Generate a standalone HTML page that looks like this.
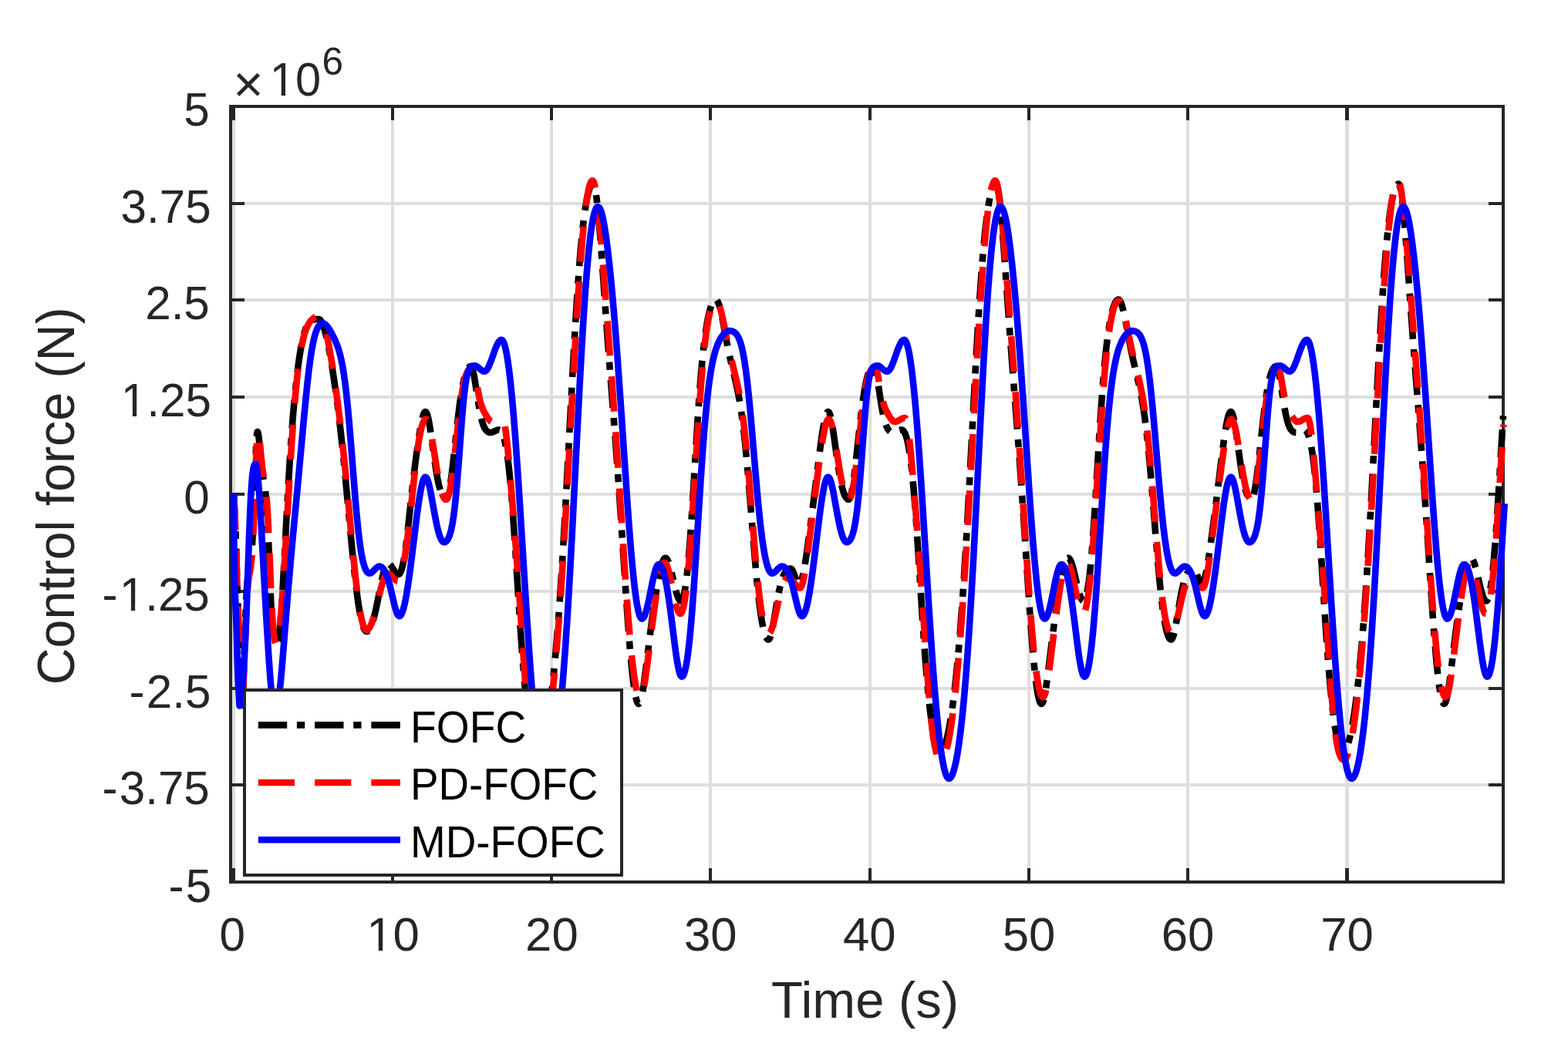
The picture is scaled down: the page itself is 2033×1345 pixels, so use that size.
<!DOCTYPE html>
<html lang="en"><head><meta charset="utf-8"><title>Control force</title>
<style>html,body{margin:0;padding:0;background:#fff;}body{width:2033px;height:1345px;overflow:hidden;}svg{display:block;}text{font-family:"Liberation Sans", Arial, Helvetica, sans-serif;}</style>
</head><body>
<svg width="2033" height="1345" viewBox="0 0 2033 1345">
<rect x="0" y="0" width="2033" height="1345" fill="#fff"/>
<g fill="#dedede" shape-rendering="crispEdges">
<rect x="301" y="140" width="4" height="1002"/>
<rect x="507" y="140" width="4" height="1002"/>
<rect x="713" y="140" width="4" height="1002"/>
<rect x="919" y="140" width="4" height="1002"/>
<rect x="1126" y="140" width="4" height="1002"/>
<rect x="1332" y="140" width="4" height="1002"/>
<rect x="1538" y="140" width="4" height="1002"/>
<rect x="1744" y="140" width="5" height="1002"/>
<rect x="301" y="262" width="1646" height="4"/>
<rect x="301" y="387" width="1646" height="4"/>
<rect x="301" y="513" width="1646" height="4"/>
<rect x="301" y="639" width="1646" height="4"/>
<rect x="301" y="765" width="1646" height="4"/>
<rect x="301" y="891" width="1646" height="4"/>
<rect x="301" y="1016" width="1646" height="4"/>
</g>
<g fill="#262626" shape-rendering="crispEdges">
<rect x="297" y="136" width="1654" height="4"/>
<rect x="297" y="1142" width="1654" height="4"/>
<rect x="297" y="136" width="4" height="1010"/>
<rect x="1947" y="136" width="4" height="1010"/>
<rect x="301" y="1126" width="4" height="16"/>
<rect x="301" y="140" width="4" height="16"/>
<rect x="507" y="1126" width="4" height="16"/>
<rect x="507" y="140" width="4" height="16"/>
<rect x="713" y="1126" width="4" height="16"/>
<rect x="713" y="140" width="4" height="16"/>
<rect x="919" y="1126" width="4" height="16"/>
<rect x="919" y="140" width="4" height="16"/>
<rect x="1126" y="1126" width="4" height="16"/>
<rect x="1126" y="140" width="4" height="16"/>
<rect x="1332" y="1126" width="4" height="16"/>
<rect x="1332" y="140" width="4" height="16"/>
<rect x="1538" y="1126" width="4" height="16"/>
<rect x="1538" y="140" width="4" height="16"/>
<rect x="1744" y="1126" width="5" height="16"/>
<rect x="1744" y="140" width="5" height="16"/>
<rect x="301" y="262" width="16" height="4"/>
<rect x="1930" y="262" width="17" height="4"/>
<rect x="301" y="387" width="16" height="4"/>
<rect x="1930" y="387" width="17" height="4"/>
<rect x="301" y="513" width="16" height="4"/>
<rect x="1930" y="513" width="17" height="4"/>
<rect x="301" y="639" width="16" height="4"/>
<rect x="1930" y="639" width="17" height="4"/>
<rect x="301" y="765" width="16" height="4"/>
<rect x="1930" y="765" width="17" height="4"/>
<rect x="301" y="891" width="16" height="4"/>
<rect x="1930" y="891" width="17" height="4"/>
<rect x="301" y="1016" width="16" height="4"/>
<rect x="1930" y="1016" width="17" height="4"/>
</g>
<clipPath id="axclip"><rect x="297" y="136" width="1665" height="1010"/></clipPath>
<g clip-path="url(#axclip)" fill="none" stroke-linejoin="round">
<path d="M303.00 641.00L304.07 659.37L304.92 676.15M305.47 689.14L305.81 698.93M306.19 711.72L307.14 746.91M307.56 759.90L307.89 769.70M308.35 782.49L309.47 817.67M309.85 830.67L310.13 840.46M310.49 853.26L311.48 888.44M311.97 901.23L312.45 911.22M313.57 919.08L314.00 914.30L314.50 905.92L315.41 883.94M315.85 871.14L316.18 861.15M316.59 848.36L317.76 813.18M318.22 800.38L318.62 790.39M319.20 777.61L319.75 767.22L320.50 756.05L321.24 748.08L321.96 742.53M324.59 730.00L325.25 725.86L325.91 720.09M326.92 707.34L327.75 692.56L328.65 672.18M329.14 659.39L329.50 649.39M329.94 636.60L331.16 601.42M331.66 588.63L332.10 578.64M332.87 565.87L333.25 562.09L333.48 560.71L333.70 560.15L333.81 560.04L334.00 560.10L334.28 560.62L334.72 562.16L334.98 563.54L335.50 567.10L336.24 573.66L338.25 595.36M339.88 610.48L340.74 616.62L341.65 622.14M344.00 637.16L344.75 644.12L345.26 649.89L346.00 660.07L346.59 669.85M347.23 682.03L347.65 691.22M348.17 703.21L349.47 736.19M349.93 748.18L350.29 757.37M350.78 769.36L351.51 785.74L352.40 802.32M353.26 814.29L353.76 819.46L354.26 823.43M360.13 831.36L360.50 830.44L361.00 828.50L361.51 825.75L362.00 822.39L363.00 813.44L364.24 798.89M365.09 786.92L365.70 777.54M366.43 765.57L368.27 732.62M368.91 720.64L369.40 711.45M370.03 699.46L371.94 663.32M372.64 650.53L373.18 640.75M373.91 627.97L376.17 590.84M377.02 578.07L377.70 568.29M378.63 555.53L380.24 535.39L381.74 518.46M382.98 505.72L384.01 495.97M385.48 483.25L386.75 473.34L388.25 462.84L389.75 453.56L391.20 445.70M394.09 433.23L395.74 427.88L397.26 423.96M405.43 414.88L406.97 414.47L408.75 414.20L410.95 414.04L413.35 414.01L413.93 414.13L414.47 414.40L415.10 414.89L415.77 415.62L416.67 416.95L417.52 418.53L418.48 420.73L419.52 423.55L420.49 426.60L421.48 430.06L423.45 438.02M426.12 450.74L427.96 460.57M430.15 473.38L432.75 489.98L435.41 508.59M437.15 521.67L438.43 531.79M440.01 544.90L442.00 562.39L443.98 580.88M445.30 593.81L446.29 603.76M447.55 616.70L450.96 653.14M452.13 665.89L453.05 675.85M454.23 688.59L457.75 725.02M459.11 738.15L460.21 748.29M461.74 761.40L463.23 773.11L464.51 782.22L465.99 791.50L467.28 798.59M470.73 812.35L471.50 814.41L472.25 816.05L473.19 817.58L474.00 818.46L474.50 818.80L474.87 818.94L475.66 818.97L476.24 818.82L476.78 818.56L477.73 817.82M483.66 805.05L485.46 798.49L487.26 790.90L489.24 781.51L491.98 767.57M494.95 752.67L496.25 746.81L497.62 741.38M505.54 732.19L506.50 733.20L507.48 734.47L511.57 740.87L512.50 742.18L513.40 743.25L514.42 744.20L515.46 744.79L516.43 745.00L517.21 744.82L517.70 744.48L518.12 744.06L519.02 742.74L519.94 740.74L520.74 738.48L521.51 735.79L522.49 731.70L524.02 723.65M525.95 710.79L527.21 700.87M528.73 687.76L532.56 651.96M533.95 639.04L535.06 629.10M536.55 616.19L538.76 598.32L541.25 579.89M543.22 566.43L544.95 555.77M547.62 542.44L548.29 539.93L549.03 537.64L549.71 535.98L550.43 534.78L550.99 534.21L551.35 534.04L551.74 534.01L552.27 534.29L552.99 535.24L553.50 536.33L554.23 538.40L554.77 540.33L555.50 543.44L556.98 551.31L558.46 560.79M560.35 574.26L561.77 584.76M563.68 598.43L565.51 610.49L567.26 620.54L569.01 628.96L570.65 635.35M576.84 647.41L577.57 647.72L578.36 647.77L578.73 647.62L579.03 647.35L579.50 646.71L580.04 645.64L580.72 643.76L581.79 639.70M584.19 626.11L586.25 610.45L588.71 588.79M590.18 575.07L591.31 564.53M592.82 550.81L595.25 530.35L596.49 521.04L597.59 513.51M599.91 499.91L601.01 494.63L602.23 489.57M607.39 476.86L608.21 475.98L609.01 475.39L609.75 475.09L610.54 475.02L611.05 475.32L611.53 475.95L611.99 476.84L612.48 478.15L613.50 481.81L614.76 487.88L616.00 495.18L617.87 507.43M619.82 520.29L621.47 530.15M624.09 542.88L625.01 546.36L626.01 549.61L626.98 552.24L627.95 554.43L629.02 556.35L630.06 557.82L631.29 559.13L632.41 559.97L633.48 560.52L634.62 560.87L635.81 561.00L637.01 560.91L637.99 560.70L639.12 560.31L643.10 558.43L644.79 557.81L645.76 557.59L646.76 557.50L647.35 557.55L647.92 557.74M653.67 569.09L654.77 573.56L655.85 578.85M657.91 591.69L658.99 600.02L659.98 608.56L661.90 627.86M663.04 641.01L663.86 651.18M664.88 664.54L667.41 700.86M668.27 714.03L668.92 724.21M669.77 737.58L672.08 773.91M672.92 787.08L673.58 797.26M674.47 810.63L677.03 846.94M678.03 860.10L678.85 870.27M679.98 883.62L681.75 902.54L683.61 919.84M685.24 932.94L686.70 943.03M689.04 956.22L689.99 960.52L690.77 963.62L691.71 966.89L692.57 969.34L693.51 971.55L694.51 973.28L695.42 974.34L696.26 974.88L696.64 974.98L697.24 974.97L698.17 974.62L699.24 973.73L700.21 972.46L701.20 970.73L702.27 968.35L703.25 965.73L704.33 962.30M707.45 949.48L709.36 939.46M711.51 926.23L713.76 909.99L716.15 890.13M717.56 877.00L718.58 866.86M719.84 853.52L721.48 834.79L722.91 817.25M723.93 804.08L724.68 793.91M725.63 780.55L728.05 744.23M728.88 731.05L729.50 720.87M730.31 707.50L732.40 671.16M733.13 657.98L733.69 647.79M734.41 634.41L736.34 598.26M737.04 584.88L737.59 574.50M738.29 561.11L740.15 525.76M740.81 513.18L741.37 502.80M742.11 489.02L744.12 452.67M744.87 439.69L745.44 429.91M746.16 417.93L748.48 381.40M749.40 368.04L750.13 357.86M751.10 345.10L752.75 324.97L754.20 309.23M755.55 296.10L756.71 285.97M758.45 272.88L759.75 264.59L761.22 256.72L762.51 251.07L764.00 245.88L764.75 243.81L765.47 242.16L766.22 240.75L767.04 239.62L767.94 238.83L768.48 238.58L768.88 238.51L769.27 238.57L769.43 238.68L769.92 239.30M772.99 252.91L774.28 263.23M775.63 276.36L777.00 291.90L778.62 312.24M779.60 325.40L780.34 335.58M781.26 348.54L783.78 384.25M784.70 397.22L785.42 407.40M786.37 420.56L789.03 456.46M790.04 469.62L790.82 479.79M791.84 492.95L794.66 528.84M795.68 542.00L796.47 552.17M797.48 565.34L800.17 601.64M801.13 615.00L801.85 625.18M802.76 638.34L805.19 674.26M806.06 687.43L806.73 697.61M807.59 710.78L809.95 746.71M810.82 759.88L811.49 769.86M812.39 783.02L814.97 818.73M815.99 831.69L816.83 841.86M817.99 855.01L820.01 875.10L820.99 883.45L822.00 890.98M824.26 903.98L824.97 906.90L825.54 908.81L826.24 910.68L826.79 911.75L827.41 912.53L827.73 912.77L828.11 912.89L828.50 912.84L828.67 912.74L829.24 912.19M833.27 896.99L834.25 890.87L835.49 882.15L838.22 860.73M839.83 847.42L841.09 837.10M842.74 823.80L845.24 804.76L847.67 787.54M849.70 774.09L851.33 764.02M853.67 750.83L855.49 741.81L857.28 734.42L858.23 731.16L859.01 728.89L859.77 727.04L860.51 725.62L861.34 724.49L862.12 723.88L862.49 723.74L862.89 723.71L863.64 723.95L864.40 724.59L865.23 725.71L866.07 727.30L866.99 729.52M870.66 742.40L873.01 752.53M876.14 765.56L877.04 768.84L877.99 771.89L878.94 774.53L879.75 776.36L880.76 778.08L881.56 778.97L882.05 779.31L882.43 779.45L882.82 779.49L883.21 779.41L883.84 778.93L884.52 777.94L885.27 776.31L886.02 774.03L886.73 771.32L887.49 767.80L888.81 760.11M890.55 746.83L891.65 736.49M892.87 723.34L894.25 706.40L895.68 686.85M896.57 673.68L897.25 663.30M898.09 649.93L900.31 613.40M901.10 600.22L901.73 589.84M902.53 576.67L904.83 540.34M905.72 527.17L906.44 516.99M907.42 503.83L909.00 484.29L910.50 467.76M911.85 454.63L913.02 444.50M914.69 431.81L916.49 420.35L918.24 411.11L920.02 403.52L920.99 400.05L921.98 397.01M929.57 389.46L930.53 390.97L931.50 393.17L932.48 396.00L933.36 399.08M936.34 412.14L943.29 448.68M946.00 461.81L948.28 471.96M951.40 484.99L953.99 495.88L955.77 503.89L957.50 512.51L959.00 520.78M961.06 533.82L962.49 544.12M964.09 557.02L966.00 574.32L967.82 592.83M969.02 605.97L969.91 616.13M971.01 629.09L973.92 664.97M974.95 677.93L975.76 688.10M976.80 701.05L979.84 736.92M981.03 749.87L982.07 760.42M983.57 774.54L985.00 786.45L986.49 797.35L987.75 805.25L989.24 813.11M993.24 826.49L994.05 827.87L994.97 828.93L995.46 829.27L995.83 829.42L996.22 829.50L996.61 829.44L997.26 828.98L997.93 827.99L998.52 826.72L999.20 824.84M1001.93 813.16L1003.52 804.30L1007.42 780.83M1009.59 769.03L1011.55 760.04M1014.95 748.54L1016.02 745.95L1017.28 743.45L1018.45 741.59L1019.71 740.04L1021.04 738.83L1022.40 738.00L1023.15 737.70L1023.92 737.50L1024.71 737.41L1025.31 737.44L1026.01 737.81L1026.57 738.38L1027.26 739.36L1028.00 740.78L1029.23 743.73L1032.36 752.17M1039.11 752.51L1040.27 748.68L1041.47 743.62M1043.68 731.83L1046.02 716.81L1048.93 695.81M1050.68 682.53L1051.99 672.41M1053.68 659.12L1058.22 622.80M1059.86 609.50L1061.15 599.18M1062.83 585.89L1065.77 564.29L1067.02 556.19L1068.34 548.70M1071.96 535.63L1072.49 534.79L1073.23 534.12L1073.81 534.02L1074.18 534.16L1074.49 534.41L1075.07 535.22L1075.74 536.67L1076.49 538.95L1077.05 541.08M1079.62 554.63L1081.49 567.29L1084.85 591.87M1086.80 605.33L1088.50 615.79M1091.15 629.13L1092.25 633.59L1093.26 637.05L1094.22 639.89L1095.29 642.48L1096.29 644.43L1097.42 646.08L1097.96 646.67L1098.58 647.18L1099.09 647.49L1099.65 647.71L1100.44 647.78L1100.80 647.63L1101.11 647.37L1101.78 646.39L1102.49 644.74L1103.04 643.02L1103.75 640.31L1104.50 636.79L1105.19 633.05M1107.22 619.41L1108.54 608.89M1110.09 595.38L1114.12 557.99M1115.64 544.48L1116.90 533.95M1118.70 520.27L1120.53 508.21L1121.49 502.69L1122.48 497.59L1123.28 493.87L1124.27 489.79L1125.25 486.33L1126.18 483.48M1134.07 476.82L1134.70 478.50L1135.26 480.42L1135.99 483.54L1136.70 487.07M1138.96 500.68L1142.49 523.81L1143.74 531.11L1144.99 537.59M1148.56 550.90L1149.78 553.86L1151.00 556.16L1151.78 557.32L1152.53 558.26L1153.22 558.97L1153.99 559.61M1166.29 558.00L1167.64 557.63L1168.83 557.50L1169.62 557.59L1170.34 557.92L1171.26 558.69L1172.01 559.63L1172.74 560.82L1173.53 562.44L1174.27 564.30L1174.98 566.38L1175.77 569.07L1176.50 571.97L1178.01 579.22L1179.46 587.90M1181.21 600.98L1182.36 611.12M1183.67 624.25L1185.24 642.18L1186.64 659.93M1187.59 672.89L1188.29 682.87M1189.17 695.84L1191.53 732.16M1192.38 745.53L1193.02 755.71M1193.87 769.09L1196.19 805.01M1197.08 818.18L1197.78 828.36M1198.71 841.32L1200.24 861.47L1201.51 877.01M1202.65 889.96L1203.59 899.92M1204.92 912.85L1206.01 922.39L1207.25 932.31L1208.52 941.22L1209.87 949.51M1212.61 962.63L1213.45 965.71L1214.25 968.19L1215.18 970.61L1216.06 972.41M1224.51 968.01L1225.53 965.19L1226.48 962.13L1227.48 958.47L1228.52 954.19L1230.52 944.60L1232.71 931.99M1234.69 918.74L1236.06 908.43M1237.65 895.32L1239.51 878.43L1241.38 859.52M1242.58 846.37L1243.46 836.21M1244.55 823.06L1247.27 787.16M1248.19 773.99L1248.88 763.81M1249.74 750.64L1251.98 714.71M1252.76 701.54L1253.35 691.35M1254.09 678.37L1256.09 642.23M1256.79 629.25L1257.34 619.06M1258.04 605.88L1259.93 569.93M1260.62 556.75L1261.15 546.56M1261.84 533.58L1263.76 497.43M1264.46 484.45L1265.02 474.27M1265.76 460.89L1267.86 424.55M1268.66 411.37L1269.29 401.19M1270.13 388.22L1272.63 352.51M1273.63 339.54L1274.47 329.38M1275.63 316.23L1277.51 297.32L1279.53 280.24M1281.42 267.18L1282.26 262.25L1283.27 256.95M1286.91 243.65L1287.73 241.83L1288.52 240.44L1289.26 239.49L1290.02 238.84L1290.56 238.59L1290.95 238.51L1291.51 238.66L1292.01 239.28L1292.44 240.18L1293.01 241.89L1293.51 243.82L1294.52 249.13L1295.75 257.84L1296.88 267.78M1298.15 280.92L1299.03 291.08M1300.10 304.23L1302.77 340.13M1303.69 353.10L1304.39 363.08M1305.32 376.24L1307.85 411.95M1308.81 425.12L1309.55 435.29M1310.52 448.26L1313.27 484.35M1314.30 497.51L1315.08 507.48M1316.11 520.64L1318.92 556.73M1319.92 569.89L1320.70 580.26M1321.67 593.43L1324.27 629.74M1325.18 642.90L1325.87 653.08M1326.74 666.05L1329.13 702.17M1329.99 715.35L1330.64 725.32M1331.51 738.50L1333.90 774.42M1334.81 787.58L1335.51 797.56M1336.46 810.53L1337.99 830.47L1339.32 846.41M1340.51 859.56L1341.53 869.71M1343.01 882.82L1344.50 893.72L1345.75 901.01L1347.01 906.67L1347.69 908.98L1348.25 910.47L1348.77 911.55L1349.48 912.51L1349.80 912.75L1350.18 912.88L1350.75 912.76L1351.44 912.04L1352.01 910.99L1352.71 909.12L1353.32 907.01M1356.13 892.28L1357.59 882.18M1359.31 868.89L1363.75 832.56M1365.42 819.27L1366.77 808.96M1368.59 795.68L1371.49 776.09L1374.23 759.32M1376.68 746.14L1377.76 741.06L1378.96 736.00M1384.19 723.89L1384.76 723.71L1385.54 723.84L1386.20 724.28L1386.75 724.87L1387.32 725.69L1387.99 726.92L1389.28 730.06L1390.51 733.86L1391.98 739.27L1393.49 745.49L1396.18 757.18M1399.53 770.15L1400.74 773.75L1401.93 776.51L1402.96 778.22L1403.49 778.82L1404.13 779.29M1409.51 768.22L1410.72 761.33L1411.77 754.00L1413.00 743.68L1414.19 731.94M1415.38 718.59L1416.20 708.42M1417.20 695.06L1419.64 658.74M1420.47 645.37L1421.11 634.99M1421.91 621.81L1424.10 585.28M1424.91 572.10L1425.55 561.72M1426.39 548.55L1428.89 512.24M1429.89 499.07L1430.71 488.91M1431.83 475.96L1433.76 456.45L1435.66 440.16M1437.46 427.29L1439.11 417.42M1441.81 404.71L1442.75 401.23L1443.75 397.98L1444.77 395.16L1445.82 392.79L1446.81 391.05L1447.91 389.63L1448.50 389.10L1449.01 388.78L1449.97 388.51L1450.36 388.53L1450.74 388.66L1451.52 389.28L1452.33 390.42L1453.22 392.21L1454.01 394.27L1454.74 396.55L1455.71 400.02L1456.57 403.51M1459.36 416.82L1461.30 427.04M1463.80 440.41L1465.74 450.42L1467.51 459.04L1469.48 468.03L1471.47 476.60M1474.57 489.43L1476.93 499.56M1479.63 512.68L1481.02 520.36L1482.50 529.44L1483.75 537.95L1485.17 548.65M1486.71 561.56L1487.82 571.70M1489.15 584.83L1490.75 601.76L1492.40 620.69M1493.49 633.64L1494.32 643.81M1495.36 656.77L1498.22 692.65M1499.27 705.61L1500.11 715.77M1501.22 728.73L1503.00 748.45L1504.68 765.36M1506.24 779.48L1507.61 790.39M1509.71 804.44L1511.25 812.69L1512.21 816.99L1513.02 820.08L1513.97 823.14L1514.75 825.19L1515.52 826.82L1516.49 828.33L1517.20 829.03L1517.71 829.35L1518.09 829.46L1518.49 829.49L1518.86 829.37L1519.47 828.85L1520.20 827.66L1520.97 825.82L1521.75 823.34L1522.40 820.82M1524.79 809.06L1526.34 799.99M1528.29 788.15L1530.24 776.72L1531.73 768.86L1533.23 761.82L1534.68 756.00M1538.71 744.71L1540.08 742.27L1541.52 740.35L1542.96 738.97L1543.78 738.39L1544.66 737.93M1551.88 745.20L1554.23 751.59L1555.01 753.43L1555.74 754.85L1556.52 756.01L1557.24 756.70L1557.97 756.99L1558.56 756.90L1559.20 756.43L1560.01 755.29L1560.70 753.85L1561.27 752.35L1561.99 750.06L1562.75 747.16L1564.40 739.54M1566.52 727.32L1568.05 717.24M1569.93 703.97L1574.67 667.88M1576.36 654.59L1577.66 644.27M1579.31 630.97L1583.81 594.65M1585.54 581.16L1586.96 570.65M1588.96 557.20L1590.51 548.34L1591.24 544.81L1592.03 541.50L1592.73 539.00L1593.46 536.93L1594.24 535.31L1594.84 534.51L1595.49 534.05L1595.88 534.01L1596.26 534.14L1596.94 534.86L1597.52 535.91L1598.23 537.78L1598.74 539.50L1599.51 542.61L1600.17 545.74M1602.45 559.35L1603.94 569.84M1605.78 583.32L1607.50 595.80L1608.99 605.89L1610.26 613.79L1611.45 620.48M1614.40 633.76L1615.29 636.83L1616.24 639.67L1617.05 641.72L1617.99 643.71M1625.60 641.31L1626.24 638.58L1626.97 634.86L1628.23 627.16L1629.73 616.26L1631.20 604.15M1632.71 590.63L1633.84 580.10M1635.31 566.37L1637.74 544.51L1639.60 529.22M1641.48 515.55L1643.16 505.08M1645.88 491.76L1647.00 487.51L1647.95 484.45L1648.99 481.64L1649.98 479.45L1651.08 477.55L1652.22 476.16L1652.83 475.64L1653.34 475.33L1653.89 475.10L1654.48 475.00L1655.05 475.16L1655.70 475.90L1656.24 476.97L1656.97 479.05L1657.50 480.98L1658.25 484.29L1659.64 491.76M1661.77 505.40L1663.34 515.88M1665.52 529.31L1667.21 538.14L1668.72 544.57L1670.25 549.75L1671.01 551.81L1671.95 554.02L1672.78 555.61L1673.74 557.14L1674.74 558.38L1675.75 559.35L1676.73 560.04L1678.00 560.64L1679.16 560.93L1680.36 560.99M1692.75 558.13L1693.34 558.67L1693.97 559.44L1695.01 561.15L1696.22 563.89L1697.31 567.12M1700.22 579.78L1701.28 586.09L1702.50 594.60L1703.75 604.73L1704.93 615.66M1706.19 628.80L1707.06 638.76M1708.11 651.72L1710.70 687.43M1711.59 700.60L1712.26 710.78M1713.11 723.95L1715.41 760.28M1716.26 773.65L1716.90 783.63M1717.75 796.80L1720.21 832.92M1721.15 845.88L1721.90 855.85M1722.93 868.81L1724.51 887.35L1726.15 904.47M1727.53 917.39L1728.76 927.72M1730.61 941.19L1732.00 949.68L1733.27 956.36L1734.75 962.79L1736.02 967.21L1736.74 969.29L1737.51 971.14L1738.25 972.56L1738.91 973.56L1739.58 974.30L1740.22 974.77L1740.98 974.99L1741.77 974.89M1748.17 963.50L1749.48 958.88L1750.79 953.44M1753.41 940.30L1754.75 932.41L1756.02 924.11L1757.49 913.61L1758.73 903.89M1760.27 890.78L1761.38 880.64M1762.69 867.71L1764.25 851.18L1765.95 831.66M1767.02 818.50L1767.81 808.33M1768.79 795.17L1771.28 759.25M1772.13 746.08L1772.78 735.90M1773.58 722.93L1775.71 686.79M1776.45 673.81L1777.02 663.63M1777.74 650.45L1779.68 614.50M1780.38 601.32L1780.92 591.13M1781.60 578.15L1783.49 542.00M1784.18 529.02L1784.71 518.83M1785.42 505.65L1787.38 469.50M1788.12 456.32L1788.70 446.14M1789.46 432.96L1791.68 396.63M1792.53 383.66L1793.21 373.68M1794.12 360.71L1795.51 342.37L1796.96 324.83M1798.16 311.68L1799.17 301.53M1800.62 288.41L1802.00 277.50L1803.49 267.41L1804.98 258.94L1806.41 252.29M1811.34 239.51L1812.26 238.76L1813.02 238.51L1813.22 238.50L1813.58 238.65L1813.99 239.08L1814.53 240.15L1814.99 241.47L1815.51 243.41L1816.09 246.15M1818.06 259.60L1819.75 275.51L1821.51 295.63M1822.55 308.79L1823.32 318.96M1824.28 331.93L1826.81 367.64M1827.72 380.60L1828.44 390.78M1829.36 403.75L1831.99 439.85M1832.97 453.01L1833.73 462.99M1834.74 476.15L1837.55 512.24M1838.57 525.20L1839.37 535.37M1840.39 548.53L1843.14 584.82M1844.12 598.19L1844.86 608.36M1845.79 621.53L1848.28 657.64M1849.16 670.81L1849.82 680.79M1850.69 693.96L1853.05 730.08M1853.91 743.06L1854.58 753.23M1855.46 766.40L1857.94 802.12M1858.90 815.08L1859.68 825.25M1860.72 838.21L1862.50 858.33L1864.12 874.25M1865.72 887.55L1867.23 897.64M1870.42 910.63L1871.07 911.87L1871.71 912.62L1872.25 912.89L1872.82 912.77L1873.28 912.39L1873.92 911.38L1874.47 910.09L1874.98 908.57L1875.52 906.65L1876.24 903.53L1877.50 896.85L1878.77 888.75L1880.32 877.45M1882.00 864.16L1883.23 854.03M1884.84 840.73L1887.26 821.28L1889.48 804.43M1891.34 791.16L1892.86 780.87M1894.93 767.63L1897.02 755.41L1898.98 745.19L1900.72 737.38L1902.29 731.60M1909.70 726.18L1910.49 727.80L1911.44 730.22L1912.26 732.69L1913.21 735.95M1916.40 748.96L1919.01 760.27L1920.74 767.05L1922.23 772.03L1922.97 774.10L1923.75 775.94L1924.49 777.36L1925.30 778.50L1926.03 779.18L1926.77 779.48L1927.35 779.43L1928.00 778.97L1928.69 777.99L1929.30 776.73M1932.43 763.73L1933.94 753.44M1935.48 740.13L1937.00 724.20L1938.65 703.87M1939.62 690.50L1940.33 680.33M1941.21 666.96L1943.49 630.43M1944.29 617.05L1944.90 606.87M1945.71 593.49L1947.93 557.36M1948.78 544.19L1949.09 539.40" stroke="#000" stroke-width="8.6"/>
<path d="M303.00 641.00L304.44 666.36L305.41 687.54M306.24 713.72L307.00 742.31L307.57 760.30M308.48 786.49L309.90 833.07M310.68 859.05L311.58 886.24L312.40 905.62M314.49 911.33L314.95 903.35L315.45 892.56L316.51 864.78M317.44 838.60L318.45 811.62L319.30 792.23M320.85 766.08L321.46 758.91L322.21 752.15L322.95 747.00L324.45 738.53L325.20 733.79L325.95 727.64L326.67 719.87M328.28 693.72L329.20 673.14L330.18 647.16M331.10 621.18L332.20 591.80L333.03 574.62M336.84 574.08L339.71 603.14L340.70 611.08L341.94 618.98M345.47 644.32L346.20 653.29L346.95 664.87L348.27 690.63M349.40 717.41L351.24 763.17M352.42 788.75L353.45 806.52L353.97 813.50L354.70 821.46L355.20 825.63L355.71 828.99L356.44 832.31L357.04 834.01M362.87 811.50L363.71 803.14L364.70 791.78L366.61 766.05M368.28 740.51L370.99 694.99M372.53 668.03L375.15 623.11M376.83 595.76L378.45 571.01L379.87 550.86M382.03 523.35L384.20 499.65L385.44 487.91L386.55 478.38M390.78 450.30L392.67 441.30L394.47 434.33L395.47 431.08L396.44 428.24L397.45 425.63L398.67 422.89L399.68 420.93L400.90 418.87L402.16 417.06L403.43 415.52L404.70 414.24L406.25 412.98L407.76 412.01L409.39 411.24M423.43 433.24L425.21 441.86L427.18 452.48L429.22 464.30L431.45 478.12M435.26 503.64L438.44 527.03L441.27 549.85M444.23 576.08L446.44 597.37L448.82 621.65M451.32 648.34L455.44 693.35M457.97 720.03L460.68 746.49L462.98 766.36M466.89 793.27L467.73 797.79L468.70 802.49L469.69 806.58L470.75 810.23L471.69 812.86L472.72 815.03L473.26 815.87L473.76 816.49L474.21 816.89L474.73 817.19L475.11 817.28L475.71 817.26L476.28 817.09L476.98 816.70L477.59 816.18L478.26 815.44L479.48 813.62L480.66 811.30L481.96 808.16L483.22 804.57L484.68 799.79M491.41 773.03L494.43 761.21L495.72 756.79L496.96 752.99L498.19 749.82L499.21 747.65L500.37 745.78L501.46 744.61L502.32 744.12L503.11 744.00L504.28 744.23L505.35 744.77L506.16 745.36L507.19 746.30L510.92 750.48L512.49 752.02L513.29 752.62L513.97 753.03L514.71 753.33L515.50 753.49M523.83 728.50L525.20 720.01L526.72 709.52L528.44 696.43L530.07 682.93M532.99 656.90L537.95 611.16M541.11 585.16L542.71 574.07L544.42 564.02L545.94 556.78L546.68 553.87L547.47 551.18L548.18 549.10L548.95 547.26L549.70 545.84L550.65 544.56L551.43 543.94L551.99 543.73L552.39 543.71L552.77 543.81L553.11 544.02L553.79 544.75M560.18 569.63L561.93 580.29L565.69 604.19L567.47 614.84M573.11 640.00L573.99 642.45L574.97 644.64L575.89 646.18L576.82 647.22L577.68 647.72L578.27 647.79L578.66 647.70L579.00 647.49L579.43 647.08L580.20 645.91L580.93 644.27L581.71 641.99L582.68 638.32L583.46 634.81L584.21 630.88L585.20 624.96L586.84 613.48M589.87 587.86L594.78 542.32M597.97 516.72L599.70 505.65L601.19 497.80L601.98 494.28L602.93 490.60L603.93 487.35L604.75 485.10L605.70 482.90L606.76 480.97L607.91 479.34L609.03 478.20L610.35 477.29L611.08 476.98L611.86 476.78L612.85 476.73L613.19 476.93L613.56 477.40M618.92 502.57L620.69 512.21L622.20 519.04L623.69 524.44L624.50 526.91L625.43 529.34L626.72 532.27L628.18 535.11L630.18 538.58L632.20 541.79L633.47 543.59L634.74 545.14L635.92 546.21L636.96 546.80M654.78 553.18L655.93 561.10L656.96 569.64L658.20 581.37L659.64 596.50M661.89 622.61L665.66 669.05M667.70 695.17L671.18 741.64M673.04 767.78L676.20 814.27M677.95 840.41L681.21 886.90M683.27 912.82L684.46 926.16L685.71 938.50L686.96 949.23L688.34 959.13M695.55 984.09L696.43 984.90L696.94 985.21L697.50 985.42L698.09 985.50L698.49 985.46L699.40 985.05L700.27 984.24L701.20 982.94L702.14 981.17L702.99 979.14L703.99 976.31L704.95 973.06L706.72 965.87L708.67 956.06L710.55 944.82M714.08 918.86L716.45 897.99L718.99 872.52M721.30 846.42L723.19 823.10L724.94 799.97M726.78 774.03L729.82 727.53M731.43 701.38L734.16 654.86M735.63 628.70L738.20 582.17M739.67 555.41L742.13 510.48M743.64 483.32L746.30 437.00M747.76 412.84L750.85 365.14M752.70 339.61L754.70 314.69L756.63 293.58M759.58 267.34L761.18 256.26L762.70 247.79L763.47 244.28L764.44 240.60L765.20 238.33L765.99 236.49L766.71 235.29L767.10 234.84L767.58 234.48L767.95 234.33L768.34 234.33L768.70 234.49L768.99 234.77L769.70 235.96L770.46 238.03L771.17 240.74L771.76 243.47M775.41 270.02L777.45 290.52L779.76 317.22M781.86 343.33L785.38 389.00M787.46 416.32L790.89 461.39M792.91 488.11L796.28 533.79M798.17 560.32L801.37 606.81M803.15 633.55L806.08 678.45M807.83 705.20L810.94 751.69M812.78 777.63L814.70 802.96L816.38 823.29M818.91 849.97L820.69 865.67L822.23 877.16L823.19 883.29L823.95 887.62L824.91 892.32L825.70 895.63M835.14 889.68L836.45 881.79L837.72 873.08L839.45 860.00L841.53 843.33M844.84 816.53L848.19 790.75L851.00 770.95M855.42 745.13L856.43 740.64L857.40 736.97L858.26 734.30L859.18 732.08L859.99 730.71L860.39 730.26L860.86 729.89L861.22 729.74L861.62 729.71L862.01 729.80L862.52 730.11L862.96 730.52L863.45 731.15L864.24 732.54L865.17 734.75L866.18 737.79L867.20 741.45L868.20 745.53L870.66 757.07M876.03 782.71L876.95 786.19L877.93 789.44L878.91 792.06L879.79 793.86L880.71 795.16L881.16 795.56L881.69 795.84L882.09 795.89L882.48 795.82L882.97 795.49L883.24 795.20L883.70 794.54L884.15 793.65L884.94 791.59L885.72 788.91L886.45 785.79L887.18 782.06L887.95 777.53L888.72 772.38L889.61 765.64M892.34 739.59L894.20 717.67L896.02 693.33M897.80 667.19L900.76 620.89M902.39 594.74L905.40 547.84M907.14 522.50L908.95 498.36L910.82 476.04M913.25 451.36L914.96 436.86L915.95 429.53L916.94 423.00L917.93 417.09L918.94 411.78L919.92 407.29L920.84 403.60M932.96 397.06L933.72 399.54L934.67 403.02L936.45 410.61L938.42 420.00L942.55 440.80M948.48 467.55L953.20 486.36L954.93 493.56L956.96 502.74L958.61 511.18M962.86 538.44L964.19 548.96L965.45 559.89L967.87 583.56M970.29 610.25L974.04 655.90M976.17 682.62L978.21 707.53L979.99 728.26M982.47 754.34L983.95 768.06L985.45 780.37L986.95 791.06L988.32 799.35M998.06 820.62L998.67 819.83L999.17 818.96L1000.17 816.78L1001.19 813.96L1002.44 809.74L1004.70 800.62L1009.54 778.75M1017.43 753.20L1018.25 751.83L1018.96 750.86L1019.63 750.13L1020.42 749.51L1021.13 749.15L1021.91 749.00L1022.71 749.07L1023.65 749.39L1024.35 749.78L1025.15 750.38L1026.70 751.94L1028.20 753.82L1031.63 758.49L1032.65 759.72L1033.62 760.73L1034.70 761.62L1035.75 762.20L1036.71 762.47L1037.50 762.44L1038.15 761.99L1038.94 760.84L1039.66 759.19L1040.24 757.49L1040.94 754.98L1041.72 751.67L1043.26 743.62M1047.19 716.91L1052.95 671.47M1056.27 645.28L1062.27 599.68M1065.83 574.93L1067.93 562.51L1068.73 558.39L1069.68 554.09L1070.47 550.99L1071.42 547.94L1072.18 546.08L1072.97 544.70L1073.35 544.24L1073.82 543.87L1074.19 543.72L1074.59 543.72L1074.97 543.85L1075.44 544.21L1076.17 545.17L1076.97 546.78L1077.74 548.84L1078.70 552.10L1079.55 555.60M1084.48 583.15L1088.98 611.40L1090.70 621.05L1092.25 628.69M1101.84 646.68L1102.44 645.64L1102.92 644.54L1103.95 641.51L1104.94 637.64L1105.93 632.94L1106.94 627.23L1107.94 620.71L1108.96 613.38L1110.24 603.06M1113.16 576.82L1116.20 548.38L1118.17 531.29M1121.99 504.57L1123.19 498.28L1124.20 493.79L1125.45 489.16L1126.67 485.56L1127.94 482.63L1129.24 480.38L1129.95 479.41L1130.76 478.53L1131.52 477.88L1132.36 477.34L1133.66 476.84L1134.85 476.71L1135.22 476.87L1135.49 477.15L1136.15 478.38L1136.95 480.86L1137.70 483.97L1138.70 489.07L1139.76 495.18M1144.72 520.69L1145.70 524.16L1146.98 527.94L1148.19 530.91L1149.67 533.97L1152.02 538.15L1154.70 542.37L1156.51 544.77L1157.19 545.50L1157.94 546.15L1158.97 546.76L1159.74 546.97L1160.94 546.95L1162.30 546.66L1163.43 546.25L1164.52 545.74L1169.40 543.00L1170.69 542.47L1172.05 542.11L1173.24 542.00L1173.62 542.10L1174.16 542.68L1174.54 543.38M1179.07 569.74L1180.95 588.04L1183.45 616.13M1185.66 642.84L1189.29 688.50M1191.33 715.22L1194.66 760.90M1196.50 787.63L1199.56 833.13M1201.39 860.07L1203.20 885.40L1204.76 905.54M1207.12 931.84L1208.95 948.34L1209.70 954.09L1210.70 960.81L1211.70 966.53L1212.68 971.22L1213.66 975.10L1214.61 978.16M1227.50 971.41L1228.45 967.53L1229.47 962.84L1231.45 952.22L1233.44 939.58L1235.41 925.11M1238.50 898.49L1240.70 876.60L1242.81 853.30M1245.02 826.59L1246.70 804.65L1248.40 780.91M1250.21 754.17L1253.09 708.66M1254.74 681.11L1257.31 636.19M1258.81 609.43L1261.35 563.10M1262.81 536.34L1265.29 491.41M1266.80 464.65L1269.44 419.73M1271.22 391.18L1272.70 368.83L1274.31 346.09M1276.40 319.37L1278.70 293.87L1279.70 284.12L1280.90 273.59M1285.02 246.72L1285.93 242.82L1286.69 240.12L1287.48 237.86L1288.23 236.22L1288.64 235.54L1289.13 234.91L1289.43 234.64L1289.95 234.35L1290.35 234.31L1290.72 234.43L1291.27 235.01L1291.92 236.24L1292.70 238.51L1293.43 241.42L1293.96 243.97L1294.69 248.10L1295.44 253.05L1296.88 264.35M1299.58 290.82L1301.44 312.14L1303.51 337.65M1305.52 363.37L1309.11 410.44M1311.07 436.16L1314.58 482.43M1316.52 508.36L1319.87 554.63M1321.71 580.97L1324.88 627.86M1326.55 653.41L1329.55 699.51M1331.28 725.65L1334.48 772.14M1336.40 797.87L1338.46 822.99L1340.43 844.30M1343.38 870.33L1344.95 881.22L1345.71 885.75L1346.69 890.86L1347.49 894.37L1348.43 897.85L1349.20 900.12L1350.00 901.95L1350.72 903.15L1351.11 903.60L1351.58 903.97L1351.94 904.14L1352.34 904.19L1352.72 904.09L1353.18 903.71L1353.93 902.53L1354.68 900.68L1355.42 898.19L1356.17 895.08M1360.34 869.22L1362.21 854.74L1366.21 822.38M1369.54 796.40L1371.45 782.33L1373.20 770.25L1374.94 759.19L1376.42 750.72M1386.11 732.10L1386.94 733.91L1387.96 736.74L1388.97 740.19L1389.96 744.07L1391.94 753.05L1395.44 770.50L1396.89 777.35M1407.13 791.31L1407.94 788.42L1408.73 784.91L1409.68 779.80L1410.46 774.86L1411.45 767.72L1412.20 761.57L1413.91 745.26M1416.18 719.16L1417.71 699.02L1419.54 672.68M1421.23 646.74L1424.13 600.43M1425.79 574.08L1428.87 527.78M1430.78 501.85L1432.70 478.53L1434.79 456.63M1437.96 430.22L1439.70 418.96L1441.43 409.92L1442.42 405.63L1443.23 402.54L1444.22 399.28L1445.17 396.65L1446.23 394.28L1447.22 392.54L1448.20 391.28L1449.27 390.39L1450.20 390.03L1450.80 390.02L1451.18 390.13L1451.69 390.44L1452.12 390.86L1453.03 392.17M1459.74 416.19L1465.68 445.80L1467.43 454.01L1469.20 461.81M1475.37 486.66L1477.94 497.56L1480.21 508.53L1482.20 519.75L1484.16 532.60M1487.38 558.40L1489.70 580.68L1491.90 604.58M1494.09 630.49L1497.82 676.94M1499.92 702.85L1502.19 729.35L1504.02 748.87M1506.79 774.32L1507.93 783.25L1508.94 790.37L1510.19 798.07L1511.22 803.58L1512.42 809.05L1513.46 812.91L1514.67 816.51L1515.21 817.80L1515.94 819.22M1526.37 802.47L1531.22 780.60L1533.19 772.23L1535.20 764.69L1536.20 761.44L1537.24 758.42M1554.16 759.04L1555.50 760.53L1556.72 761.56L1557.94 762.24L1559.11 762.49L1559.70 762.41L1560.19 762.06L1560.45 761.77L1560.99 760.92L1561.65 759.47L1562.43 757.20L1563.21 754.30L1564.71 747.26L1566.45 737.01L1568.50 722.76M1571.87 696.77L1577.65 650.94M1580.98 625.15L1584.46 598.98L1587.13 580.17M1591.62 554.77L1592.49 551.28L1593.42 548.22L1594.24 546.17L1595.01 544.78L1595.39 544.31L1595.84 543.92L1596.20 543.74L1596.59 543.71L1596.98 543.81L1597.47 544.15L1598.22 545.08L1598.95 546.50L1599.93 549.13L1600.72 551.81L1601.68 555.70L1603.47 564.52L1605.62 577.13M1609.73 603.21L1611.23 612.29L1612.71 620.56L1613.95 626.83L1615.22 632.49L1616.43 637.14L1617.69 641.14L1618.90 644.10L1619.45 645.17L1620.09 646.18M1628.96 627.72L1630.20 619.62L1631.45 610.30L1632.94 597.99L1634.66 582.48M1637.41 556.63L1638.95 542.51L1640.45 529.80L1641.95 518.30L1643.15 510.19M1650.08 482.54L1650.96 480.96L1651.99 479.49L1653.08 478.32L1654.20 477.49L1655.48 476.91L1656.86 476.70L1657.23 476.81L1657.39 476.94L1657.96 477.75L1658.43 478.85L1658.97 480.57L1660.18 485.83L1661.20 491.34L1663.96 507.30L1665.50 515.15M1675.11 539.77L1677.20 542.95L1678.94 545.14L1679.66 545.84L1680.45 546.44L1681.17 546.80L1681.94 546.99L1682.74 546.98L1683.73 546.84L1685.44 546.29L1687.06 545.51L1690.88 543.31L1692.89 542.43L1694.05 542.13L1695.04 542.01L1695.44 542.00L1695.96 542.28L1696.42 542.94L1696.97 544.22L1697.50 545.94L1698.18 548.86L1699.20 554.57L1700.51 564.08M1703.25 590.14L1704.96 609.26L1707.30 637.16M1709.37 662.88L1713.00 709.54M1714.94 735.46L1718.22 781.95M1719.96 807.69L1723.09 854.19M1724.91 880.12L1726.95 906.64L1728.66 926.17M1731.57 952.41L1732.45 958.54L1733.21 963.28L1734.17 968.39L1734.99 972.10L1735.96 975.78L1736.95 978.82L1737.95 981.22L1739.02 983.14L1739.62 983.94L1740.17 984.52L1740.80 985.01L1741.32 985.29L1741.90 985.46L1742.50 985.49L1743.07 985.34L1743.60 985.05L1744.21 984.53L1744.73 983.93L1745.71 982.42L1746.90 979.88L1748.00 976.88M1753.73 951.13L1755.44 940.27L1756.95 929.37L1758.45 917.47L1759.98 904.15M1762.62 878.49L1764.70 855.78L1766.67 832.27M1768.66 806.54L1771.94 759.86M1773.61 734.11L1776.49 687.00M1777.99 661.24L1780.59 615.12M1782.03 588.96L1784.60 542.03M1786.00 516.47L1788.57 470.34M1790.04 444.78L1792.93 397.27M1794.64 371.12L1796.45 345.59L1798.04 325.05M1800.29 299.15L1801.71 285.02L1803.20 271.90L1804.68 260.80L1806.01 252.51M1814.83 238.61L1815.46 241.13L1816.22 244.85L1816.96 249.19L1817.72 254.34L1819.44 268.43L1821.14 285.14M1823.50 311.64L1827.19 357.89M1829.17 383.62L1832.77 430.88M1834.68 456.01L1838.21 502.87M1840.09 528.40L1843.42 575.29M1845.21 601.42L1848.29 647.92M1849.95 673.27L1853.01 720.17M1854.77 746.31L1858.08 792.39M1860.14 818.11L1862.44 843.40L1863.69 855.34L1864.79 864.88M1868.73 890.57L1869.66 894.66L1870.44 897.56L1871.19 899.84L1872.14 902.04L1873.01 903.38L1873.44 903.80L1873.95 904.11L1874.34 904.19L1874.73 904.13L1875.21 903.78L1875.47 903.48L1876.24 902.08L1876.93 900.20L1877.70 897.51L1878.42 894.39L1879.96 886.13L1881.67 874.86M1885.07 848.68L1890.92 801.85M1894.41 776.29L1895.95 766.00L1897.22 758.10L1898.46 751.01L1899.70 744.73L1900.92 739.47L1901.95 735.81L1902.97 732.99L1903.47 731.90L1904.08 730.87M1913.77 751.78L1918.71 776.08L1920.18 782.52L1921.42 787.15L1922.74 791.14L1923.44 792.80L1923.99 793.87L1924.66 794.86L1925.21 795.44L1925.90 795.83L1926.49 795.88M1933.11 770.99L1934.21 762.26L1935.45 750.93L1936.69 737.99L1937.84 724.64M1939.83 698.72L1942.98 652.22M1944.62 626.27L1947.53 579.76M1949.21 553.62L1949.40 550.83" stroke="#ff0000" stroke-width="8.6"/>
<path d="M303.00 641.00L303.08 665.83L303.31 692.04L303.90 736.18L304.20 749.97L304.78 767.90L306.52 813.42L307.86 858.94L308.42 875.50L309.23 893.43L310.50 915.50L310.75 915.39L311.00 915.07L311.25 914.54L311.50 913.80L312.00 911.69L312.75 907.04L313.75 898.26L314.50 889.88L315.50 876.46L317.00 851.48L318.25 825.86L319.50 795.64L323.00 696.48L324.00 670.43L325.00 648.38L326.00 631.13L327.00 618.70L327.50 614.12L328.25 608.95L329.00 605.47L329.75 603.30L330.00 602.81L330.50 602.14L331.00 601.83L331.25 601.80L331.50 601.96L331.75 602.33L332.00 602.91L332.50 604.73L333.00 607.38L333.75 612.87L334.25 617.46L335.00 625.65L336.25 642.26L337.25 657.68L338.50 678.81L343.50 769.84L346.25 817.48L348.75 856.78L350.75 884.02L351.75 895.68L352.50 903.37L353.25 910.03L354.00 915.57L354.75 919.89L355.50 922.93L356.00 924.21L356.25 924.63L356.50 924.89L356.75 925.00L357.00 924.96L357.25 924.82L357.75 924.19L358.50 922.43L359.25 919.69L360.25 914.60L361.00 909.76L362.00 902.07L363.75 885.66L366.25 857.47L373.00 772.84L377.00 726.14L379.75 696.20L386.75 622.05L394.50 537.51L397.00 511.83L399.00 492.98L400.75 478.12L402.50 465.01L404.00 455.26L405.75 445.61L407.25 438.79L408.00 435.85L409.00 432.39L409.75 430.11L410.75 427.49L411.75 425.29L412.75 423.48L413.50 422.37L414.25 421.44L415.00 420.69L416.00 419.95L416.75 419.58L417.50 419.37L418.25 419.30L419.25 419.43L420.00 419.68L421.00 420.21L421.75 420.75L422.75 421.64L423.75 422.71L424.75 423.95L427.00 427.23L429.75 431.90L432.75 437.64L435.25 443.06L437.25 448.06L439.00 453.18L440.75 459.26L442.25 465.47L443.75 472.79L444.75 478.38L445.75 484.62L447.50 497.19L449.25 512.01L451.00 529.11L452.50 545.45L454.00 563.11L460.75 647.91L462.50 667.74L464.25 685.40L466.00 700.54L467.75 713.04L468.50 717.61L469.50 722.99L470.50 727.61L471.50 731.52L472.25 734.03L473.00 736.19L473.75 738.03L474.75 740.03L475.50 741.21L476.50 742.40L477.25 743.02L478.25 743.49L479.00 743.60L480.00 743.47L480.75 743.20L481.75 742.63L483.50 741.16L487.00 737.44L488.25 736.26L489.75 735.20L491.00 734.71L491.75 734.60L492.75 734.68L493.75 735.00L494.50 735.40L495.50 736.14L496.25 736.87L497.75 738.78L499.25 741.36L500.75 744.64L502.25 748.66L503.75 753.43L505.00 757.93L506.25 762.85L511.25 784.07L512.50 788.81L513.50 792.12L514.75 795.49L515.75 797.44L516.25 798.15L516.75 798.66L517.25 798.98L517.75 799.10L518.25 799.03L518.75 798.79L519.25 798.37L520.00 797.42L521.00 795.56L522.25 792.29L523.25 788.96L524.50 783.94L525.75 778.02L527.00 771.27L529.25 757.27L531.75 739.42L534.25 719.84L539.75 674.94L541.25 663.36L542.75 652.55L544.50 641.30L546.00 633.15L547.50 626.64L548.75 622.63L549.75 620.43L550.50 619.38L551.25 618.86L551.75 618.81L552.00 618.88L552.75 619.43L553.25 620.10L553.75 620.99L554.50 622.74L555.50 625.80L557.00 631.75L558.50 638.97L563.75 668.07L566.25 680.66L567.50 686.10L568.75 690.85L570.00 694.86L571.00 697.51L572.25 700.14L573.25 701.67L574.25 702.70L574.75 703.02L575.50 703.28L576.25 703.27L577.00 703.08L577.75 702.71L578.25 702.36L579.50 701.11L580.75 699.26L582.00 696.71L583.00 694.10L584.25 689.98L585.25 685.90L586.25 681.02L587.25 675.26L588.25 668.52L589.25 660.74L591.00 644.49L592.75 625.01L594.50 602.86L598.75 545.86L600.00 530.76L601.00 519.88L602.25 508.09L603.50 498.41L604.75 490.83L605.50 487.21L606.25 484.22L607.00 481.80L607.75 479.86L608.50 478.35L609.25 477.18L610.25 476.05L611.25 475.30L612.50 474.72L613.75 474.42L615.00 474.31L616.00 474.34L617.00 474.59L618.00 475.05L619.75 476.27L623.00 479.18L624.25 480.20L625.50 481.00L626.50 481.44L627.50 481.67L628.50 481.65L629.50 481.24L630.50 480.43L631.50 479.24L632.50 477.69L633.50 475.81L634.75 473.06L636.75 467.93L642.25 452.43L643.75 448.74L645.25 445.62L646.25 443.91L647.00 442.86L647.75 442.02L648.50 441.39L649.25 440.98L650.00 440.81L650.75 440.92L651.25 441.25L652.00 442.12L653.00 444.00L653.75 445.94L654.75 449.24L655.50 452.24L656.50 456.95L657.25 461.01L658.25 467.11L660.00 479.69L661.75 494.61L663.50 511.80L665.25 531.14L666.75 549.32L668.25 568.86L671.50 615.23L674.75 665.71L682.25 786.78L686.25 847.01L688.25 874.52L690.25 899.87L692.25 922.82L694.00 940.80L696.00 958.84L698.00 974.15L699.75 985.29L700.75 990.71L701.75 995.45L702.75 999.51L703.75 1002.89L704.75 1005.60L705.75 1007.63L706.75 1009.00L707.25 1009.43L707.75 1009.70L708.25 1009.80L708.75 1009.75L709.25 1009.56L709.75 1009.24L710.50 1008.51L711.00 1007.86L712.25 1005.64L713.50 1002.59L714.50 999.54L715.75 994.98L717.00 989.56L718.25 983.30L719.25 977.67L720.50 969.84L721.50 962.94L723.75 945.31L726.00 924.67L728.25 900.90L730.50 873.92L732.75 843.65L735.00 810.12L737.25 773.47L739.50 733.95L741.75 692.03L749.75 534.41L753.00 473.16L754.75 442.41L756.25 417.66L758.00 390.91L759.50 369.97L761.50 345.07L763.50 323.74L765.50 305.99L766.50 298.44L767.50 291.76L768.50 285.94L769.50 280.97L770.50 276.82L771.50 273.49L772.50 270.96L773.50 269.23L774.00 268.66L774.50 268.29L775.00 268.12L775.75 268.21L776.50 268.72L777.00 269.29L777.50 270.03L778.50 272.07L779.50 274.82L780.50 278.26L781.50 282.38L782.50 287.16L783.50 292.57L785.50 305.22L787.75 322.15L790.00 341.71L792.25 363.70L794.25 385.15L796.25 408.29L798.25 433.04L800.50 462.65L804.50 519.21L813.00 645.52L815.25 676.88L817.25 702.84L819.50 729.25L821.75 752.14L823.00 763.17L824.00 771.07L825.00 778.12L826.00 784.30L827.25 790.78L828.25 794.95L829.25 798.21L830.25 800.56L830.75 801.39L831.25 801.99L831.75 802.36L832.25 802.50L832.75 802.43L833.50 802.01L834.00 801.52L834.75 800.47L835.75 798.51L836.75 795.94L837.75 792.79L839.00 788.15L841.25 778.21L845.50 757.04L847.00 749.99L848.75 742.78L850.25 737.82L851.25 735.29L852.00 733.85L852.75 732.81L853.50 732.19L854.25 732.00L854.75 732.08L855.25 732.29L855.75 732.64L856.25 733.12L857.25 734.49L858.25 736.40L859.00 738.19L860.00 741.05L860.75 743.55L862.50 750.60L864.25 759.29L866.00 769.56L868.00 783.02L870.00 797.94L875.25 839.26L876.75 850.00L878.00 858.01L879.50 866.13L880.25 869.47L881.00 872.28L881.75 874.52L882.50 876.16L883.25 877.19L883.75 877.53L884.00 877.59L884.50 877.52L885.25 876.98L886.00 875.90L886.75 874.28L887.50 872.13L888.25 869.43L889.50 863.72L891.00 854.85L892.25 845.74L893.75 832.76L895.25 817.58L897.50 790.91L900.00 756.46L902.25 722.23L908.25 626.63L911.25 582.85L913.00 560.02L914.75 539.52L916.25 523.89L918.00 507.90L919.75 494.20L921.50 482.59L923.50 471.57L925.50 462.58L926.50 458.73L927.75 454.44L928.75 451.37L930.00 447.93L931.25 444.89L932.75 441.70L934.00 439.36L935.50 436.91L937.50 434.20L939.50 432.07L940.50 431.22L941.50 430.51L942.50 429.94L943.50 429.52L944.50 429.24L945.50 429.11L946.75 429.13L948.00 429.29L949.25 429.59L950.25 429.95L951.50 430.57L952.50 431.23L953.50 432.07L954.25 432.83L955.75 434.74L957.25 437.31L958.50 440.04L959.75 443.42L961.00 447.53L962.25 452.46L963.50 458.31L965.25 468.16L967.00 480.08L968.75 494.10L970.75 512.59L972.25 528.01L974.00 547.36L979.75 615.44L981.75 638.29L984.00 662.06L986.00 680.89L988.25 699.11L990.25 712.53L991.25 718.26L992.25 723.35L993.25 727.83L994.50 732.58L996.00 737.10L996.75 738.89L997.50 740.39L998.25 741.59L999.00 742.51L999.75 743.15L1000.50 743.51L1001.25 743.60L1002.25 743.42L1003.00 743.13L1004.00 742.52L1005.75 741.01L1009.00 737.54L1010.25 736.35L1011.75 735.26L1013.00 734.73L1013.75 734.61L1014.75 734.67L1015.75 734.96L1016.50 735.34L1017.50 736.06L1018.25 736.76L1019.75 738.64L1021.25 741.17L1022.75 744.40L1024.25 748.37L1025.75 753.09L1027.00 757.55L1028.25 762.44L1033.50 784.67L1034.75 789.34L1035.75 792.57L1036.75 795.25L1037.75 797.28L1038.25 798.02L1038.75 798.57L1039.25 798.93L1039.75 799.09L1040.25 799.06L1040.75 798.85L1041.25 798.47L1042.00 797.57L1043.00 795.77L1044.25 792.59L1045.25 789.32L1046.50 784.37L1047.75 778.52L1049.00 771.84L1051.25 757.93L1053.75 740.17L1056.25 720.65L1062.00 673.75L1063.50 662.23L1065.00 651.52L1066.50 641.90L1068.00 633.65L1069.50 627.02L1070.75 622.90L1071.75 620.61L1072.50 619.49L1073.25 618.90L1073.75 618.80L1074.00 618.84L1074.25 618.94L1074.75 619.33L1075.25 619.94L1075.75 620.79L1076.50 622.48L1077.50 625.46L1079.00 631.31L1080.50 638.46L1086.00 668.88L1088.25 680.20L1089.50 685.69L1090.75 690.49L1092.00 694.56L1093.25 697.87L1094.50 700.40L1095.50 701.85L1096.50 702.81L1097.00 703.10L1097.50 703.26L1098.00 703.30L1098.75 703.19L1099.50 702.90L1100.25 702.44L1101.50 701.23L1102.75 699.43L1104.00 696.95L1105.25 693.66L1106.50 689.41L1107.50 685.22L1108.50 680.22L1109.50 674.31L1110.50 667.42L1111.50 659.48L1113.25 642.95L1115.00 623.20L1116.50 604.18L1120.75 547.13L1122.00 531.91L1123.00 520.92L1124.25 508.95L1125.50 499.11L1126.75 491.36L1127.50 487.66L1128.25 484.59L1129.00 482.09L1129.75 480.10L1130.50 478.53L1131.25 477.31L1132.25 476.14L1133.25 475.36L1134.50 474.76L1135.75 474.44L1137.00 474.31L1138.00 474.33L1139.00 474.56L1140.00 475.00L1141.00 475.62L1142.00 476.39L1146.25 480.12L1147.50 480.95L1148.50 481.41L1149.75 481.69L1150.75 481.61L1151.50 481.30L1152.50 480.53L1153.50 479.38L1154.50 477.86L1155.50 476.01L1156.75 473.29L1159.00 467.51L1162.75 456.80L1164.50 452.04L1166.25 447.85L1167.75 444.89L1168.75 443.33L1169.50 442.38L1170.50 441.46L1171.25 441.03L1172.00 440.82L1172.75 440.88L1173.50 441.39L1174.25 442.35L1175.00 443.77L1175.75 445.65L1176.50 447.99L1177.50 451.81L1178.25 455.21L1179.25 460.44L1181.00 471.51L1182.50 482.89L1184.25 498.34L1186.00 516.03L1187.75 535.84L1189.25 554.40L1190.75 574.29L1194.00 621.26L1197.00 668.11L1204.25 785.21L1208.25 845.58L1210.25 873.19L1212.00 895.60L1214.00 918.99L1215.75 937.36L1217.75 955.88L1219.50 969.84L1221.25 981.71L1222.25 987.54L1223.25 992.69L1224.00 996.10L1225.00 1000.06L1226.00 1003.34L1227.00 1005.95L1228.00 1007.88L1228.50 1008.60L1229.00 1009.15L1229.50 1009.53L1230.00 1009.75L1230.50 1009.80L1231.00 1009.70L1231.75 1009.31L1232.25 1008.89L1233.00 1008.00L1233.50 1007.24L1234.75 1004.75L1236.00 1001.43L1237.25 997.27L1238.50 992.27L1239.75 986.41L1240.75 981.11L1242.00 973.71L1243.25 965.42L1245.50 948.25L1247.75 928.08L1250.00 904.81L1252.25 878.33L1254.50 848.57L1256.75 815.55L1259.25 775.16L1261.50 735.76L1263.75 693.94L1271.75 536.35L1275.00 474.97L1278.25 419.26L1280.00 392.38L1281.50 371.31L1283.50 346.24L1285.50 324.72L1287.50 306.79L1288.50 299.15L1289.50 292.39L1290.50 286.48L1291.50 281.43L1292.50 277.20L1293.50 273.79L1294.50 271.18L1295.50 269.37L1296.00 268.76L1296.50 268.35L1297.00 268.14L1297.75 268.17L1298.50 268.63L1299.00 269.16L1299.50 269.87L1300.50 271.84L1301.50 274.51L1302.50 277.89L1303.50 281.94L1304.50 286.65L1305.50 292.00L1307.50 304.53L1309.75 321.34L1312.00 340.79L1314.25 362.67L1316.25 384.03L1318.25 407.09L1320.25 431.76L1322.50 461.30L1326.50 517.75L1335.00 644.08L1337.25 675.53L1339.25 701.59L1341.75 730.89L1344.00 753.53L1345.25 764.41L1346.25 772.18L1347.25 779.10L1348.25 785.15L1349.50 791.46L1350.50 795.50L1351.50 798.62L1352.50 800.84L1353.00 801.60L1353.50 802.13L1354.00 802.43L1354.50 802.50L1355.00 802.38L1355.50 802.09L1356.00 801.63L1356.75 800.63L1357.75 798.73L1359.00 795.50L1360.00 792.28L1361.25 787.55L1363.50 777.50L1367.50 757.53L1369.00 750.44L1370.75 743.15L1372.25 738.11L1373.25 735.52L1374.00 734.02L1374.75 732.92L1375.50 732.25L1376.25 732.00L1376.75 732.05L1377.25 732.24L1377.75 732.56L1378.25 733.02L1379.25 734.33L1380.25 736.18L1381.00 737.93L1382.00 740.74L1382.75 743.20L1383.50 745.97L1384.50 750.15L1386.25 758.75L1388.25 770.51L1390.25 784.09L1392.25 799.11L1397.25 838.51L1398.75 849.32L1400.00 857.41L1401.50 865.65L1402.25 869.06L1403.00 871.94L1403.75 874.25L1404.50 875.98L1405.25 877.09L1405.75 877.49L1406.00 877.58L1406.50 877.56L1407.25 877.08L1408.00 876.07L1408.75 874.53L1409.50 872.44L1410.25 869.82L1411.50 864.24L1413.00 855.51L1414.25 846.52L1415.75 833.69L1417.25 818.66L1419.50 792.18L1422.00 757.92L1424.50 719.87L1430.25 628.17L1432.00 601.91L1433.50 580.81L1435.25 558.17L1436.75 540.63L1438.25 524.88L1440.00 508.75L1441.75 494.92L1443.50 483.20L1445.50 472.07L1447.50 462.99L1448.50 459.10L1449.75 454.76L1451.00 450.93L1452.25 447.55L1453.50 444.55L1455.00 441.40L1456.25 439.10L1457.75 436.69L1459.75 434.02L1461.75 431.93L1462.75 431.10L1463.75 430.41L1464.75 429.87L1465.75 429.47L1466.75 429.21L1467.75 429.10L1469.25 429.17L1470.50 429.37L1471.75 429.72L1472.75 430.12L1473.75 430.66L1474.75 431.34L1475.75 432.21L1476.50 432.99L1478.00 434.97L1479.50 437.61L1480.75 440.41L1482.00 443.87L1483.25 448.08L1484.50 453.12L1485.50 457.81L1487.25 467.54L1489.00 479.34L1490.75 493.24L1492.75 511.61L1494.25 526.94L1496.00 546.22L1501.75 614.27L1504.00 639.95L1506.00 661.06L1508.00 680.01L1510.25 698.37L1512.25 711.92L1513.25 717.72L1514.25 722.87L1515.25 727.41L1516.50 732.23L1518.00 736.83L1518.75 738.67L1519.50 740.21L1520.25 741.45L1521.00 742.41L1521.75 743.08L1522.25 743.38L1522.75 743.55L1523.50 743.59L1524.25 743.45L1525.00 743.17L1526.00 742.59L1527.75 741.11L1531.00 737.65L1532.50 736.22L1534.00 735.18L1535.25 734.70L1536.00 734.60L1537.00 734.69L1538.00 735.02L1538.75 735.43L1539.75 736.19L1540.50 736.92L1542.00 738.86L1543.50 741.46L1545.00 744.76L1546.25 748.08L1547.75 752.75L1549.00 757.18L1550.50 763.05L1555.50 784.27L1556.75 788.99L1557.75 792.27L1559.00 795.60L1560.00 797.52L1560.50 798.21L1561.00 798.70L1561.50 799.00L1562.00 799.10L1562.50 799.01L1563.00 798.75L1563.50 798.32L1564.25 797.34L1565.25 795.45L1566.50 792.14L1567.50 788.78L1568.75 783.72L1570.00 777.76L1571.25 770.98L1573.50 756.93L1576.00 739.04L1578.50 719.44L1584.00 674.54L1585.50 662.98L1587.00 652.21L1588.75 641.01L1590.25 632.91L1591.00 629.46L1591.75 626.46L1593.00 622.50L1594.00 620.34L1594.75 619.33L1595.25 618.94L1595.50 618.84L1596.00 618.82L1596.25 618.90L1597.00 619.49L1597.75 620.60L1598.50 622.23L1599.50 625.13L1601.00 630.87L1602.50 637.95L1604.00 645.93L1608.00 668.34L1610.50 680.89L1611.75 686.30L1613.00 691.02L1614.25 695.00L1615.25 697.63L1616.50 700.22L1617.50 701.73L1618.50 702.74L1619.00 703.05L1619.75 703.28L1620.50 703.26L1621.25 703.06L1622.00 702.68L1622.50 702.32L1623.75 701.05L1625.00 699.17L1626.25 696.60L1627.25 693.95L1628.50 689.79L1629.50 685.68L1630.50 680.76L1631.50 674.95L1632.50 668.16L1633.50 660.32L1635.25 643.98L1637.00 624.41L1638.75 602.20L1642.75 548.41L1644.00 533.07L1645.00 521.96L1646.50 507.66L1647.75 498.07L1649.00 490.57L1649.75 486.99L1650.50 484.05L1651.25 481.65L1652.00 479.75L1652.75 478.26L1653.50 477.11L1654.50 476.00L1655.50 475.27L1656.75 474.71L1658.00 474.42L1659.25 474.31L1660.25 474.35L1661.25 474.61L1662.25 475.08L1664.00 476.31L1668.25 480.05L1669.50 480.89L1670.50 481.37L1671.75 481.68L1672.75 481.64L1673.50 481.35L1674.50 480.63L1675.50 479.51L1676.50 478.03L1677.50 476.21L1678.75 473.53L1681.00 467.79L1685.00 456.38L1686.75 451.66L1688.50 447.52L1690.00 444.64L1691.00 443.12L1692.00 441.97L1693.00 441.20L1693.75 440.89L1694.50 440.80L1695.25 441.09L1695.75 441.54L1696.50 442.60L1697.25 444.11L1698.00 446.08L1698.75 448.51L1699.75 452.46L1700.50 455.94L1701.50 461.30L1703.25 472.57L1704.75 484.13L1706.50 499.77L1708.25 517.65L1710.00 537.64L1711.50 556.33L1713.00 576.34L1716.00 619.75L1719.00 666.51L1726.25 783.63L1730.25 844.15L1732.25 871.86L1734.00 894.37L1736.00 917.88L1737.75 936.37L1739.75 955.01L1741.50 969.10L1743.25 981.09L1744.25 986.99L1745.25 992.21L1746.00 995.67L1747.00 999.70L1748.00 1003.04L1749.00 1005.72L1750.00 1007.72L1750.50 1008.47L1751.00 1009.05L1751.50 1009.47L1752.00 1009.72L1752.50 1009.80L1753.00 1009.73L1753.75 1009.38L1754.25 1008.98L1755.00 1008.13L1755.50 1007.40L1756.75 1004.98L1758.00 1001.73L1759.25 997.64L1760.50 992.70L1761.75 986.91L1762.75 981.67L1764.00 974.33L1765.25 966.12L1767.50 949.07L1768.75 938.32L1770.00 926.62L1772.25 903.14L1774.50 876.45L1776.75 846.47L1779.00 813.23L1781.50 772.62L1783.75 733.04L1786.00 691.08L1794.00 533.43L1797.00 476.79L1800.25 420.87L1802.00 393.85L1803.50 372.65L1805.50 347.41L1807.25 328.23L1809.25 309.67L1810.25 301.73L1811.25 294.66L1812.25 288.45L1813.25 283.10L1814.25 278.58L1815.25 274.89L1816.25 272.00L1817.25 269.91L1817.75 269.17L1818.25 268.62L1818.75 268.27L1819.50 268.10L1820.25 268.36L1820.75 268.77L1821.25 269.35L1822.25 271.07L1823.25 273.49L1824.25 276.63L1825.25 280.44L1826.25 284.93L1827.25 290.06L1829.25 302.17L1831.25 316.59L1833.25 333.14L1835.50 354.13L1837.50 374.74L1839.75 400.00L1842.00 427.33L1844.25 456.59L1848.50 516.29L1857.75 653.36L1860.25 687.52L1862.50 715.57L1864.00 732.52L1865.25 745.43L1866.75 759.35L1868.00 769.56L1869.50 780.06L1870.75 787.32L1872.00 793.18L1873.25 797.63L1874.25 800.17L1875.00 801.46L1875.75 802.24L1876.25 802.47L1876.50 802.50L1877.25 802.31L1877.75 801.97L1878.25 801.46L1879.00 800.39L1880.00 798.40L1880.75 796.50L1881.75 793.47L1882.75 789.91L1883.75 785.89L1885.75 776.77L1889.50 758.03L1891.00 750.89L1892.50 744.50L1894.00 739.17L1895.00 736.35L1895.75 734.67L1896.75 733.04L1897.50 732.31L1898.25 732.01L1898.75 732.03L1899.25 732.19L1899.75 732.49L1900.25 732.92L1901.00 733.81L1902.00 735.47L1903.00 737.68L1904.00 740.43L1905.00 743.73L1906.00 747.58L1907.00 751.97L1908.00 756.90L1909.25 763.80L1911.00 774.74L1913.00 788.84L1918.50 832.01L1920.50 846.89L1922.25 858.31L1923.75 866.37L1924.75 870.66L1925.50 873.24L1926.25 875.25L1927.00 876.65L1927.75 877.43L1928.00 877.55L1928.50 877.58L1929.00 877.37L1929.50 876.92L1930.25 875.80L1931.00 874.15L1931.50 872.75L1932.75 868.20L1934.00 862.13L1935.00 856.16L1936.00 849.20L1937.25 839.09L1938.25 829.90L1939.50 817.04L1941.75 790.26L1944.00 759.38L1946.50 721.44L1950.75 653.30" stroke="#0000ff" stroke-width="8.6"/>
</g>
<g fill="#262626">
<text transform="translate(301.3,1232.6) scale(0.975,1)" font-size="61.7" text-anchor="middle">0</text>
<text transform="translate(509.6,1232.6) scale(1,1)" font-size="61.7" text-anchor="middle">10</text>
<text transform="translate(715.4,1232.6) scale(1,1)" font-size="61.7" text-anchor="middle">20</text>
<text transform="translate(921.3,1232.6) scale(1,1)" font-size="61.7" text-anchor="middle">30</text>
<text transform="translate(1127.2,1232.6) scale(1,1)" font-size="61.7" text-anchor="middle">40</text>
<text transform="translate(1334,1232.6) scale(1,1)" font-size="61.7" text-anchor="middle">50</text>
<text transform="translate(1540,1232.6) scale(1,1)" font-size="61.7" text-anchor="middle">60</text>
<text transform="translate(1746.6,1232.6) scale(1,1)" font-size="61.7" text-anchor="middle">70</text>
<text transform="translate(271.7,163.2) scale(0.975,1)" font-size="61.7" text-anchor="end">5</text>
<text transform="translate(273.6,288.8) scale(0.975,1)" font-size="61.7" text-anchor="end">3.75</text>
<text transform="translate(271.8,414.1) scale(0.975,1)" font-size="61.7" text-anchor="end">2.5</text>
<text transform="translate(273.9,540) scale(0.975,1)" font-size="61.7" text-anchor="end">1.25</text>
<text transform="translate(271.8,666.1) scale(0.975,1)" font-size="61.7" text-anchor="end">0</text>
<text transform="translate(271.8,791.7) scale(0.975,1)" font-size="61.7" text-anchor="end">-<tspan dx="2.2">1.25</tspan></text>
<text transform="translate(273.4,918) scale(0.975,1)" font-size="61.7" text-anchor="end">-<tspan dx="2.2">2.5</tspan></text>
<text transform="translate(271.8,1043.3) scale(0.975,1)" font-size="61.7" text-anchor="end">-<tspan dx="2.2">3.75</tspan></text>
<text transform="translate(274.2,1170) scale(0.975,1)" font-size="61.7" text-anchor="end">-<tspan dx="2.2">5</tspan></text>
<text x="302.2" y="131.7" font-family="'Liberation Serif', serif" font-size="67.5">×</text>
<text transform="translate(349.8,124) scale(0.985,1)" font-size="60.5" text-anchor="start">10</text>
<text transform="translate(417.6,97.4) scale(1,1)" font-size="49.5" text-anchor="start">6</text>
</g>
<g fill="#fff">
<rect x="352.5" y="117.5" width="12.22" height="8"/>
<rect x="370" y="117.5" width="10.5" height="8"/>
<rect x="477.5" y="1226.5" width="13.26" height="8"/>
<rect x="496.23" y="1226.5" width="11.27" height="8"/>
<rect x="159.5" y="533.5" width="12.37" height="8"/>
<rect x="177.2" y="533.5" width="11.3" height="8"/>
<rect x="157.5" y="785.5" width="12.37" height="8"/>
<rect x="175.2" y="785.5" width="11.3" height="8"/>
</g>
<g fill="#262626">
<text transform="translate(1121.6,1319.8) scale(1,1)" font-size="67" text-anchor="middle">Time (s)</text>
<text transform="translate(96,643.4) rotate(-90) scale(0.975,1)" font-size="68" text-anchor="middle">Control force (N)</text>
</g>
<g>
<rect x="315" y="893" width="493" height="243.5" fill="#262626" shape-rendering="crispEdges"/>
<rect x="319" y="897" width="485" height="235.5" fill="#fff" shape-rendering="crispEdges"/>
<g fill="none" stroke-width="8.6">
<path d="M334.8 940.4H519" stroke="#000" stroke-dasharray="37.4 12.7 10.3 12.9"/>
<path d="M334.8 1015H519" stroke="#ff0000" stroke-dasharray="47.2 26.1"/>
<path d="M334.8 1089.3H519" stroke="#0000ff"/>
</g>
<g fill="#000">
<text transform="translate(532,963.1) scale(0.976,1)" font-size="56.6" text-anchor="start">FOFC</text>
<text transform="translate(532,1037) scale(0.967,1)" font-size="56.6" text-anchor="start">PD-FOFC</text>
<text transform="translate(532,1112) scale(0.969,1)" font-size="56.6" text-anchor="start">MD-FOFC</text>
</g></g>
</svg>
</body></html>
